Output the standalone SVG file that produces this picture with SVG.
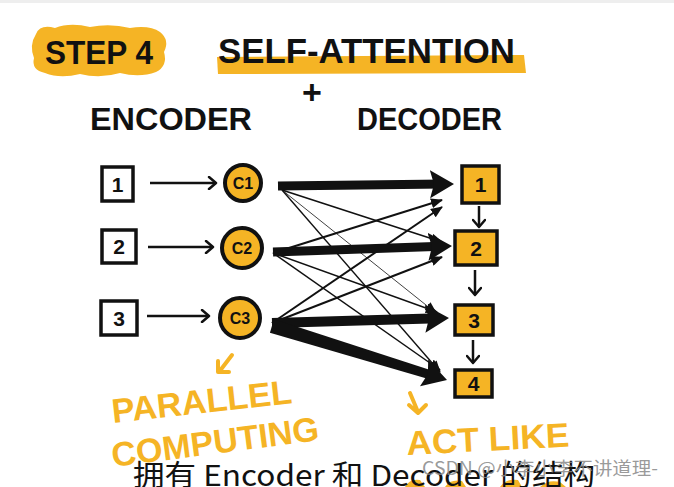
<svg xmlns="http://www.w3.org/2000/svg" width="674" height="487" viewBox="0 0 674 487">
<defs>
<style>
.ink{fill:#111;font-family:"Liberation Sans",Arial,sans-serif;font-weight:bold}
.ylw{fill:#F5B425;font-family:"Liberation Sans",Arial,sans-serif;font-weight:bold}
.box-in{fill:#fff;stroke:#111;stroke-width:3.5}
.box-out{fill:#F5B425;stroke:#111;stroke-width:3.5}
.circ{fill:#F5B425;stroke:#111;stroke-width:4}
.num{font-family:"Liberation Sans",Arial,sans-serif;font-weight:bold;font-size:21px;fill:#111;text-anchor:middle}
.cl{font-family:"Liberation Sans",Arial,sans-serif;font-weight:bold;font-size:16px;fill:#111;text-anchor:middle}
.thin{stroke:#111;fill:none;marker-end:url(#thead)}
.arr{stroke:#111;fill:none;stroke-width:2.5;marker-end:url(#vhead)}
.thick{stroke:#111;fill:none;marker-end:url(#bighead)}
.yarr{stroke:#F5B425;fill:none;stroke-width:4;stroke-linecap:round;stroke-linejoin:round}
.cjk{font-family:"Noto Sans CJK SC","Noto Sans",sans-serif}
</style>
<marker id="vhead" markerUnits="userSpaceOnUse" markerWidth="14" markerHeight="14" refX="10" refY="7" orient="auto" viewBox="0 0 14 14"><path d="M3,1 L10,7 L3,13" fill="none" stroke="#111" stroke-width="2.5" stroke-linecap="round" stroke-linejoin="round"/></marker>
<marker id="thead" markerUnits="userSpaceOnUse" markerWidth="12" markerHeight="10" refX="11" refY="5" orient="auto" viewBox="0 0 12 10"><path d="M0,0 L12,5 L0,10 Z" fill="#111"/></marker>
<marker id="bighead" markerUnits="userSpaceOnUse" markerWidth="24" markerHeight="28" refX="14" refY="14" orient="auto" viewBox="0 0 24 28"><path d="M0,0 L24,14 L0,28 L4,14 Z" fill="#111"/></marker>
</defs>
<rect x="0" y="0" width="674" height="487" fill="#fff"/>
<rect x="0" y="0" width="674" height="3" fill="#eee"/>

<g id="title">
<path d="M36,34 Q40,24 55,28 Q70,22 90,27 Q110,23 130,28 Q150,25 160,32 Q170,40 164,52 Q168,66 156,72 Q140,78 120,73 Q100,79 80,74 Q60,79 45,73 Q31,70 34,58 Q29,45 36,34 Z" fill="#F5B425"/>
<text class="ink" x="45" y="64" font-size="34" textLength="108" lengthAdjust="spacingAndGlyphs">STEP 4</text>
<path d="M217,57 L524,55 L526,73 L218,74 Z" fill="#F5B425"/>
<text class="ink" x="218" y="63" font-size="35" textLength="297" lengthAdjust="spacingAndGlyphs">SELF-ATTENTION</text>
<text class="ink" x="312" y="104" font-size="34" text-anchor="middle">+</text>
<text class="ink" x="90" y="130" font-size="32" textLength="162" lengthAdjust="spacingAndGlyphs">ENCODER</text>
<text class="ink" x="357" y="130" font-size="32" textLength="145" lengthAdjust="spacingAndGlyphs">DECODER</text>
</g>

<g id="connectors">
<line class="arr" x1="150" y1="183" x2="216" y2="183"/>
<line class="arr" x1="148" y1="247" x2="213" y2="247"/>
<line class="arr" x1="147" y1="316" x2="209" y2="316"/>
<line class="thin" stroke-width="1.6" x1="282" y1="190" x2="442" y2="242"/>
<line class="thin" stroke-width="0.8" x1="282" y1="190" x2="436" y2="313"/>
<line class="thin" stroke-width="1.4" x1="282" y1="190" x2="440" y2="372"/>
<line class="thin" stroke-width="2" x1="273" y1="253" x2="442" y2="200"/>
<line class="thin" stroke-width="1.5" x1="273" y1="253" x2="437" y2="312"/>
<line class="thin" stroke-width="1.5" x1="273" y1="253" x2="440" y2="370"/>
<line class="thin" stroke-width="2" x1="272" y1="323" x2="442" y2="207"/>
<line class="thin" stroke-width="2" x1="272" y1="323" x2="442" y2="257"/>
<line class="thick" stroke-width="9" x1="278" y1="186" x2="444" y2="184.1"/>
<line class="thick" stroke-width="9" x1="273" y1="252" x2="442" y2="246.3"/>
<line class="thick" stroke-width="10" x1="272" y1="323" x2="439" y2="318.3"/>
<path d="M274,319.3 L438.7,372.7 L436.1,381.3 L269.9,332.7 Z" fill="#111"/>
<path d="M447,380 L420,386.3 L427.9,374.1 L428.2,359.5 Z" fill="#111"/>
<line class="arr" stroke-width="2" x1="479" y1="206" x2="479" y2="227"/>
<line class="arr" stroke-width="2" x1="475" y1="270" x2="475" y2="295"/>
<line class="arr" stroke-width="2" x1="473" y1="340" x2="473" y2="363"/>
</g>

<g id="enc1"><rect class="box-in" x="102" y="167" width="31" height="34"/><text class="num" x="117.5" y="192">1</text></g>
<g id="enc2"><rect class="box-in" x="102" y="230" width="34" height="33"/><text class="num" x="119" y="254">2</text></g>
<g id="enc3"><rect class="box-in" x="101" y="301" width="36" height="34"/><text class="num" x="119" y="326">3</text></g>

<g id="c1"><circle class="circ" cx="243" cy="183" r="18"/><text class="cl" x="243" y="189">C1</text></g>
<g id="c2"><circle class="circ" cx="242" cy="248" r="20"/><text class="cl" x="242" y="254">C2</text></g>
<g id="c3"><circle class="circ" cx="240" cy="318" r="20"/><text class="cl" x="240" y="324">C3</text></g>

<g id="dec1"><rect class="box-out" x="462" y="166" width="37" height="37"/><text class="num" x="480.5" y="192">1</text></g>
<g id="dec2"><rect class="box-out" x="455" y="231" width="42" height="34"/><text class="num" x="476" y="256">2</text></g>
<g id="dec3"><rect class="box-out" x="455" y="305" width="38" height="30"/><text class="num" x="474" y="328">3</text></g>
<g id="dec4"><rect class="box-out" x="455" y="370" width="37" height="27"/><text class="num" x="473.5" y="391">4</text></g>

<g id="notes">
<path class="yarr" d="M232,355 L219,372 M218,361 L218,372 L229,372"/>
<text class="ylw" x="113" y="423" font-size="34" textLength="181" lengthAdjust="spacingAndGlyphs" transform="rotate(-6.3 113 423)">PARALLEL</text>
<text class="ylw" x="113" y="467" font-size="34" textLength="209" lengthAdjust="spacingAndGlyphs" transform="rotate(-7.4 113 467)">COMPUTING</text>
<path class="yarr" d="M410,393 L418,412 M409,405 L418,413 L426,405"/>
<text class="ylw" x="407" y="455" font-size="34" textLength="163" lengthAdjust="spacingAndGlyphs" transform="rotate(-3 407 455)">ACT LIKE</text>
<path d="M405,487 Q410,478 420,480 L425,487 Z M445,487 Q450,479 462,481 L466,487 Z M500,487 Q506,478 518,480 L522,487 Z M540,487 Q548,479 560,482 L566,487 Z" fill="#F5B425"/>
</g>

<g id="caption">
<text class="cjk" x="133" y="486" font-size="29" fill="#111" textLength="462" lengthAdjust="spacingAndGlyphs">拥有 Encoder 和 Decoder 的结构</text>
<text class="cjk" x="422" y="475" font-size="18" fill="#888" fill-opacity="0.85" textLength="236" lengthAdjust="spacingAndGlyphs">CSDN @小李小李不讲道理-</text>
</g>
</svg>
